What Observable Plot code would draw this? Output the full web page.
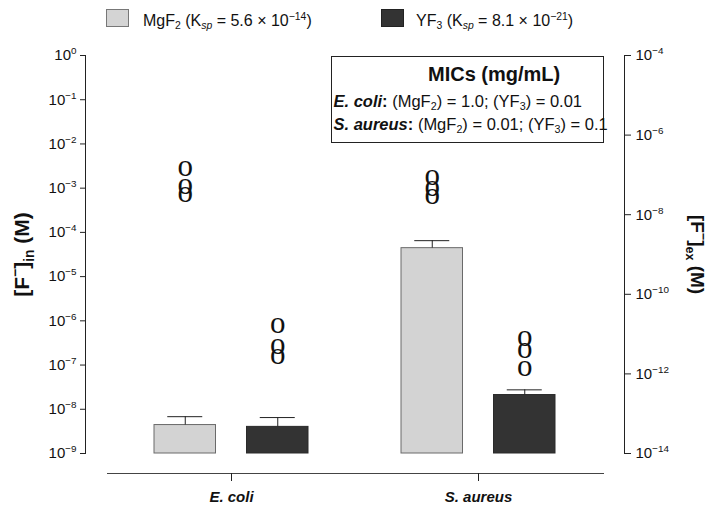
<!DOCTYPE html>
<html>
<head>
<meta charset="utf-8">
<script src="https://cdn.jsdelivr.net/npm/d3@7"></script>
<script src="https://cdn.jsdelivr.net/npm/@observablehq/plot@0.6"></script>
<style>
  body { margin: 0; background: #fff; }
  #wrap { position: relative; width: 719px; height: 511px; overflow: hidden; font-family: "Liberation Sans", Arial, sans-serif; color: #111; }
  .abs { position: absolute; white-space: nowrap; line-height: 1; }
  .sub { font-size: 65%; vertical-align: -0.3em; line-height: 0; }
  .sup { font-size: 65%; vertical-align: 0.55em; line-height: 0; }
  .swatch { position: absolute; box-sizing: border-box; }
  #chart { position: absolute; left: 0; top: 36px; }
  #mic { position: absolute; left: 331px; top: 56px; width: 273px; height: 87px; box-sizing: border-box; border: 1.5px solid #222; background: #fff; }
</style>
</head>
<body>
<div id="wrap">
  <div class="swatch" style="left:106px;top:9px;width:23px;height:18px;background:#d4d4d4;border:1px solid #777;"></div>
  <div class="abs" style="left:143px;top:12.5px;font-size:16px;">MgF<span class="sub">2</span> (K<span class="sub"><i>sp</i></span> = 5.6 × 10<span class="sup">−14</span>)</div>
  <div class="swatch" style="left:381px;top:9px;width:23px;height:18px;background:#333;border:1px solid #222;"></div>
  <div class="abs" style="left:416px;top:12.5px;font-size:16px;">YF<span class="sub">3</span> (K<span class="sub"><i>sp</i></span> = 8.1 × 10<span class="sup">−21</span>)</div>
  <div id="chart"></div>
  <div id="mic"></div>
  <div class="abs" style="left:428px;top:64px;font-size:20px;font-weight:bold;">MICs (mg/mL)</div>
  <div class="abs" style="left:333.5px;top:93px;font-size:16.5px;"><b><i>E. coli</i>:</b> (MgF<span class="sub">2</span>) = 1.0; (YF<span class="sub">3</span>) = 0.01</div>
  <div class="abs" style="left:333.5px;top:116px;font-size:16.5px;"><b><i>S. aureus</i>:</b> (MgF<span class="sub">2</span>) = 0.01; (YF<span class="sub">3</span>) = 0.1</div>
</div>
<script>
// ---- data ----
const organisms = ["E. coli", "S. aureus"];
const series = ["MgF2", "YF3"];
const baseValue = 1e-9;
const mgf2Mean = [4.4e-9, 4.4e-5];
const mgf2Upper = [6.8e-9, 6.5e-5];
const yf3Mean = [4.0e-9, 2.1e-8];
const yf3Upper = [6.5e-9, 2.75e-8];
const mgf2Outliers = [[2.7e-3, 1.08e-3, 6.8e-4], [1.7e-3, 9.6e-4, 6.2e-4]];
const yf3Outliers = [[7.7e-7, 2.5e-7, 1.54e-7], [3.9e-7, 2.1e-7, 8.1e-8]];
const leftTickExp = [0, -1, -2, -3, -4, -5, -6, -7, -8, -9];
const rightTickExp = [-4, -6, -8, -10, -12, -14];
const rightExpRange = [-14, -4];
const leftExpRange = [-9, 0];
const yLabelLeft = "[F^{−}]_{in} (M)";
const yLabelRight = "[F^{−}]_{ex} (M)";

// ---- derived tables ----
const mgf2 = organisms.map((org, i) => ({org, mean: mgf2Mean[i], upper: mgf2Upper[i]}));
const yf3 = organisms.map((org, i) => ({org, mean: yf3Mean[i], upper: yf3Upper[i]}));
const mgf2Pts = organisms.flatMap((org, i) => mgf2Outliers[i].map(v => ({org, v})));
const yf3Pts = organisms.flatMap((org, i) => yf3Outliers[i].map(v => ({org, v})));
const leftTicks = leftTickExp.map(e => Math.pow(10, e));
const k = (leftExpRange[1] - leftExpRange[0]) / (rightExpRange[1] - rightExpRange[0]);
const rightToLeft = e => leftExpRange[0] + (e - rightExpRange[0]) * k;
const rightTicks = rightTickExp.map(e => ({e, v: Math.pow(10, rightToLeft(e))}));
const sup = e => `10^{${String(e).replace("-", "−")}}`;

const INK = "#222";
const off = 46.25;
const serif = "Liberation Serif, Times New Roman, serif";

const plot = Plot.plot({
  width: 719,
  height: 475,
  marginTop: 19,
  marginBottom: 58,
  marginLeft: 85,
  marginRight: 95,
  style: {fontFamily: "Liberation Sans, Arial, sans-serif", fontSize: "15px", color: "#111", background: "#fff"},
  x: {type: "band", domain: organisms, paddingInner: 0.378, paddingOuter: 0.277, label: null},
  y: {type: "log", domain: [baseValue, 1], label: null},
  marks: [
    Plot.frame({anchor: "left", stroke: INK}),
    Plot.frame({anchor: "right", stroke: INK}),
    Plot.axisY({anchor: "left", ticks: leftTicks, tickSize: 5, tickPadding: 4, fontSize: 15, stroke: INK,
      tickFormat: d => sup(Math.round(Math.log10(d))), label: null}),
    Plot.axisY({anchor: "right", ticks: rightTicks.map(d => d.v), tickSize: 6, tickFormat: () => "", stroke: INK, label: null}),
    Plot.text(rightTicks, {y: "v", text: d => sup(d.e), frameAnchor: "right", dx: 11, textAnchor: "start", fontSize: 15, fill: "#111"}),
    Plot.ruleY([baseValue], {dy: 20, insetLeft: 22, insetRight: 20, stroke: "#444"}),
    Plot.axisX({anchor: "bottom", dy: 20, tickSize: 8, tickPadding: 10, fontSize: 15, fontWeight: "bold", fontStyle: "italic", stroke: INK, label: null}),
    // bars
    Plot.barY(mgf2, {x: "org", y1: () => baseValue, y2: "mean", insetRight: 92.5, fill: "#d3d3d3", stroke: "#6a6a6a", strokeWidth: 1}),
    Plot.barY(yf3, {x: "org", y1: () => baseValue, y2: "mean", insetLeft: 92.5, fill: "#333", stroke: "#2a2a2a", strokeWidth: 1}),
    // error bars
    Plot.ruleX(mgf2, {x: "org", y1: "mean", y2: "upper", dx: -off, stroke: INK}),
    Plot.ruleX(yf3, {x: "org", y1: "mean", y2: "upper", dx: off, stroke: INK}),
    Plot.tickY(mgf2, {x: "org", y: "upper", insetLeft: 13.25, insetRight: 105.75, stroke: INK}),
    Plot.tickY(yf3, {x: "org", y: "upper", insetLeft: 105.75, insetRight: 13.25, stroke: INK}),
    // outliers
    Plot.text(mgf2Pts, {x: "org", y: "v", text: () => "o", dx: -off, dy: -3, fontFamily: serif, fontSize: 31, fill: "#111"}),
    Plot.text(yf3Pts, {x: "org", y: "v", text: () => "o", dx: off, dy: -3, fontFamily: serif, fontSize: 31, fill: "#111"}),
    // axis titles
    Plot.text([yLabelLeft], {text: d => d, frameAnchor: "left", dx: -63, rotate: -90, textAnchor: "middle", lineAnchor: "middle", fontSize: 21, fontWeight: "bold", fill: "#111"}),
    Plot.text([yLabelRight], {text: d => d, frameAnchor: "right", dx: 73, rotate: 90, textAnchor: "middle", lineAnchor: "middle", fontSize: 19, fontWeight: "bold", fill: "#111"})
  ]
});

document.getElementById("chart").appendChild(plot);

// rich text: ^{..} superscript, _{..} subscript
const NS = "http://www.w3.org/2000/svg";
plot.querySelectorAll("text").forEach(t => {
  const s = t.textContent;
  if (!/[\^_]\{/.test(s)) return;
  const fs = parseFloat(getComputedStyle(t).fontSize) || 15;
  while (t.firstChild) t.removeChild(t.firstChild);
  const re = /([\^_])\{([^}]*)\}|([^\^_]+)/g;
  let m;
  while ((m = re.exec(s))) {
    const ts = document.createElementNS(NS, "tspan");
    if (m[3] !== undefined) {
      ts.textContent = m[3];
    } else {
      ts.textContent = m[2];
      ts.setAttribute("font-size", (fs * 0.66).toFixed(1));
      ts.setAttribute("baseline-shift", m[1] === "^" ? (fs * 0.42).toFixed(1) : (-fs * 0.25).toFixed(1));
    }
    t.appendChild(ts);
  }
});
</script>
</body>
</html>
